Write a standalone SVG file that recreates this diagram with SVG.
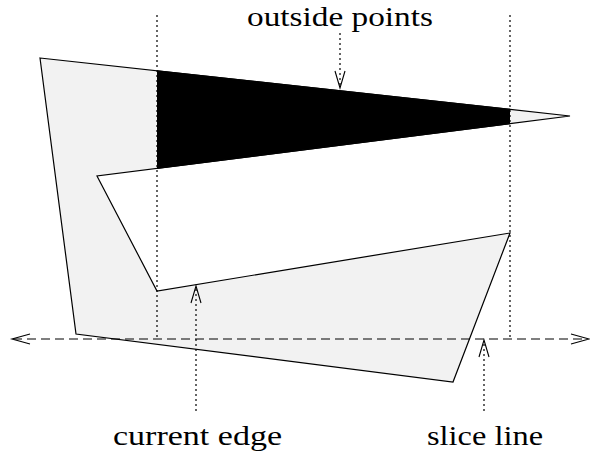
<svg xmlns="http://www.w3.org/2000/svg" width="590" height="459" viewBox="0 0 590 459">
<style>
.poly{fill:#f2f2f2;stroke:#000;stroke-width:1.2;stroke-linejoin:miter}
.dot{fill:none;stroke:#000;stroke-width:1.2;stroke-dasharray:2 3}
.dash{fill:none;stroke:#000;stroke-width:1.1;stroke-dasharray:9 5}
.head{fill:none;stroke:#000;stroke-width:1.1}
.lbl{font-family:"Liberation Serif","DejaVu Serif",serif;font-size:28px;fill:#000}
</style>
<rect width="590" height="459" fill="#fff"/>
<g id="polygon">
<polygon class="poly" points="40,58 570,116 97,176 157,291 510,233 453,382 76,334"/>
<polygon points="157,70.8 510,109.4 510,123.6 157,168.4" fill="#000"/>
<line x1="157" y1="70.8" x2="510" y2="109.4" stroke="#000" stroke-width="1.2"/>
<line x1="157" y1="168.4" x2="510" y2="123.6" stroke="#000" stroke-width="1.2"/>
</g>
<g id="connectors">
<line class="dot" x1="157" y1="15" x2="157" y2="338"/>
<line class="dot" x1="510" y1="15" x2="510" y2="338"/>
<line class="dash" x1="13" y1="339" x2="587" y2="339"/>
<polyline class="head" points="30,334 12,339 30,344"/>
<polyline class="head" points="571,334 589,339 571,344"/>
<line class="dot" x1="340" y1="33" x2="340" y2="87"/>
<polyline class="head" points="335,71 340,88 345,71"/>
<line class="dot" x1="196" y1="411" x2="196" y2="288"/>
<polyline class="head" points="191,303 196,286 201,303"/>
<line class="dot" x1="484" y1="411" x2="484" y2="342"/>
<polyline class="head" points="479,357 484,340 489,357"/>
</g>
<g id="labels">
<text class="lbl" x="247" y="25.5" textLength="186" lengthAdjust="spacingAndGlyphs">outside points</text>
<text class="lbl" x="113" y="445" textLength="169" lengthAdjust="spacingAndGlyphs">current edge</text>
<text class="lbl" x="427" y="445" textLength="116" lengthAdjust="spacingAndGlyphs">slice line</text>
</g>
</svg>
